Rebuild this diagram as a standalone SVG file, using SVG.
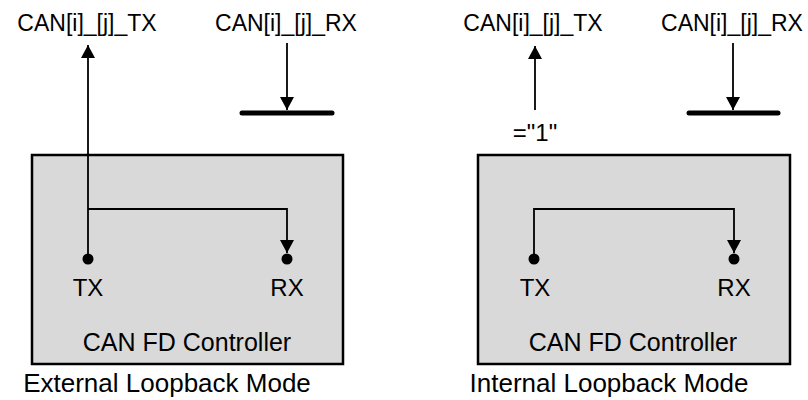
<svg xmlns="http://www.w3.org/2000/svg" width="808" height="400" viewBox="0 0 808 400">
  <style>
    text { font-family: "Liberation Sans", Arial, sans-serif; fill: #000; text-anchor: middle; }
    .lbl { font-size: 23px; }
    .pin { font-size: 24px; }
    .ctl { font-size: 25px; }
    .cap { font-size: 26px; }
    .box { fill: #d9d9d9; stroke: #000; stroke-width: 2.5; }
    .wire { fill: none; stroke: #000; stroke-width: 1.8; }
    .bus { stroke: #000; stroke-width: 5; stroke-linecap: round; }
    .dot { fill: #000; }
  </style>
  <defs>
    <marker id="arr" viewBox="0 0 13 14" refX="13" refY="7" markerWidth="13" markerHeight="14" markerUnits="userSpaceOnUse" orient="auto">
      <path d="M0,0 L13,7 L0,14 z" fill="#000"/>
    </marker>
  </defs>

  <!-- External loopback -->
  <g id="ext-controller">
    <rect class="box" x="32" y="155" width="311" height="209"/>
    <circle class="dot" cx="88" cy="259" r="5.5"/>
    <circle class="dot" cx="287" cy="259" r="5.5"/>
    <text class="pin" x="88" y="296">TX</text>
    <text class="pin" x="287" y="296">RX</text>
    <text class="ctl" x="187" y="351">CAN FD Controller</text>
  </g>
  <g id="ext-tx-label"><text class="lbl" x="87" y="31">CAN[i]_[j]_TX</text></g>
  <g id="ext-rx-label"><text class="lbl" x="286" y="31">CAN[i]_[j]_RX</text></g>
  <g id="ext-rx-bus"><line class="bus" x1="242" y1="113" x2="332" y2="113"/></g>
  <g id="ext-caption"><text class="cap" x="167" y="392">External Loopback Mode</text></g>

  <!-- Internal loopback -->
  <g id="int-controller">
    <rect class="box" x="478" y="155" width="312" height="209"/>
    <circle class="dot" cx="534" cy="259" r="5.5"/>
    <circle class="dot" cx="734" cy="259" r="5.5"/>
    <text class="pin" x="535" y="296">TX</text>
    <text class="pin" x="734" y="296">RX</text>
    <text class="ctl" x="633" y="351">CAN FD Controller</text>
  </g>
  <g id="int-tx-label"><text class="lbl" x="533" y="31">CAN[i]_[j]_TX</text></g>
  <g id="int-rx-label"><text class="lbl" x="732" y="31">CAN[i]_[j]_RX</text></g>
  <g id="int-rx-bus"><line class="bus" x1="689" y1="113" x2="778" y2="113"/></g>
  <g id="int-one"><text class="pin" x="535" y="141">="1"</text></g>
  <g id="int-caption"><text class="cap" x="609" y="392">Internal Loopback Mode</text></g>

  <!-- Connectors -->
  <g id="connectors">
    <line class="wire" x1="88" y1="259" x2="88" y2="45" marker-end="url(#arr)"/>
    <polyline class="wire" points="88,209 287,209 287,253" marker-end="url(#arr)"/>
    <line class="wire" x1="287" y1="43" x2="287" y2="110" marker-end="url(#arr)"/>
    <line class="wire" x1="535" y1="110" x2="535" y2="46" marker-end="url(#arr)"/>
    <polyline class="wire" points="534,259 534,209 734,209 734,253" marker-end="url(#arr)"/>
    <line class="wire" x1="733" y1="43" x2="733" y2="110" marker-end="url(#arr)"/>
  </g>
</svg>
